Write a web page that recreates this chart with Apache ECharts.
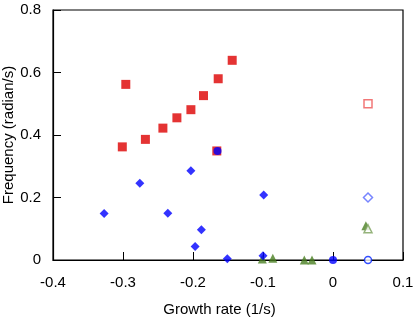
<!DOCTYPE html>
<html><head><meta charset="utf-8">
<script src="https://cdn.jsdelivr.net/npm/echarts@6/dist/echarts.min.js"></script>
<style>html,body{margin:0;padding:0;background:#fff}#c{width:415px;height:322px}</style>
</head><body><div id="c"></div>
<script>
var xTicks = [-0.4, -0.3, -0.2, -0.1, 0, 0.1];
var yTicks = [0, 0.2, 0.4, 0.6, 0.8];
var redFilled = [[-0.301,0.362],[-0.296,0.562],[-0.268,0.386],[-0.243,0.422],[-0.223,0.455],[-0.203,0.481],[-0.185,0.526],[-0.164,0.580],[-0.144,0.639],[-0.166,0.349]];
var redOpen = [[0.05,0.5]];
var greenFilled = [[-0.101,0.003],[-0.086,0.006],[-0.041,0.0],[-0.030,0.0],[0.047,0.110]];
var greenOpen = [[0.05,0.100]];
var blueDiamond = [[-0.327,0.149],[-0.276,0.246],[-0.236,0.150],[-0.203,0.286],[-0.188,0.097],[-0.197,0.043],[-0.151,0.004],[-0.099,0.208],[-0.100,0.014]];
var blueCircle = [[-0.165,0.349],[0.0,0.0]];
var blueOpenDiamond = [[0.05,0.2]];
var blueOpenCircle = [[0.05,0.0]];

var chart = echarts.init(document.getElementById('c'));
var font = 'Liberation Sans, Arial, sans-serif';
function s(data, symbol, color, size, empty){
  return {type:'scatter', data:data, symbol:symbol, symbolSize:size, clip:false,
    itemStyle: empty ? {color:'#fff', borderColor:color, borderWidth:1.5} : {color:color},
    emphasis:{disabled:true}};
}
chart.setOption({
  animation:false,
  grid:{left:53,right:12,top:10,bottom:62,outerBoundsMode:'none',containLabel:false,show:true,borderColor:'#000',borderWidth:1.2},
  xAxis:{type:'value',min:xTicks[0],max:xTicks[xTicks.length-1],interval:0.1,
    name:'Growth rate (1/s)',nameLocation:'middle',nameGap:42,nameMoveOverlap:false,
    nameTextStyle:{fontFamily:font,fontSize:15,color:'#000',padding:[0,17,0,0]},
    axisLine:{show:true,onZero:false,lineStyle:{color:'#000',width:1.2}},
    axisTick:{show:true,inside:true,length:8,lineStyle:{color:'#000'}},
    axisLabel:{fontFamily:font,fontSize:15,color:'#000',margin:15},
    splitLine:{show:false}},
  yAxis:{type:'value',min:yTicks[0],max:yTicks[yTicks.length-1],interval:0.2,
    name:'Frequency (radian/s)',nameLocation:'middle',nameGap:37,nameMoveOverlap:false,
    nameTextStyle:{fontFamily:font,fontSize:15,color:'#000'},
    axisLine:{show:true,onZero:false,lineStyle:{color:'#000',width:1.2}},
    axisTick:{show:true,inside:true,length:8,lineStyle:{color:'#000'}},
    axisLabel:{fontFamily:font,fontSize:15,color:'#000',margin:12},
    splitLine:{show:false}},
  series:[
    s(redFilled,'rect','#dd0000',9,false),
    s(redOpen,'rect','#ee5555',8,true),
    s(greenFilled,'triangle','#4a7f22',9,false),
    s(greenOpen,'triangle','#7aa05a',8,true),
    s(blueDiamond,'diamond','#0000ff',9,false),
    s(blueCircle,'circle','#0000ff',8,false),
    s(blueOpenDiamond,'diamond','#5566ff',9,true),
    s(blueOpenCircle,'circle','#0022ff',7,true)
  ]
});
</script></body></html>
